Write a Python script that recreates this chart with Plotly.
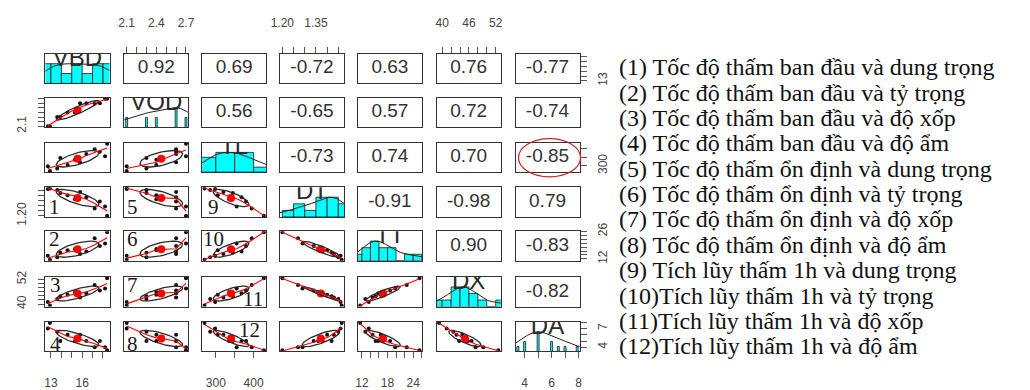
import numpy as np
import plotly.graph_objects as go

# ---- soil infiltration survey: 12 samples, 7 measured variables ----
VBD = [12.9, 12.7, 13.6, 15.8, 13.9, 14.6, 16.4, 15.3, 17.7, 18.2, 17.2, 18.4]
VOD = [2.1, 2.1, 2.3, 2.6, 2.3, 2.4, 2.6, 2.4, 2.6, 2.7, 2.6, 2.7]
TL = [270, 298, 285, 320, 345, 305, 368, 335, 380, 355, 395, 427]
DT = [1.465, 1.46, 1.45, 1.43, 1.42, 1.40, 1.38, 1.36, 1.34, 1.29, 1.27, 1.20]
TT = [11.6, 13.6, 12.8, 14.5, 15.2, 16.4, 15.8, 17.0, 18.6, 19.8, 22.5, 25.5]
DX = [39.3, 41.0, 42.5, 43.2, 43.8, 44.5, 45.2, 45.8, 46.6, 47.5, 49.2, 52.6]
DA = [7.9, 7.0, 6.5, 6.0, 5.0, 6.0, 5.0, 5.0, 5.0, 4.0, 4.0, 3.5]

var_names = ["VBD", "VOD", "TL", "DT", "TT", "DX", "DA"]

# Pearson coefficients printed in the upper triangle, one list per row
corr_row1 = [0.92, 0.69, -0.72, 0.63, 0.76, -0.77]
corr_row2 = [0.56, -0.65, 0.57, 0.72, -0.74]
corr_row3 = [-0.73, 0.74, 0.70, -0.85]
corr_row4 = [-0.91, -0.98, 0.79]
corr_row5 = [0.90, -0.83]
corr_row6 = [-0.82]

# tick positions and the labels that are printed on each outer side
VBD_ticks = [13, 14, 15, 16, 17, 18]
VBD_bottom = ["13", "", "", "16", "", ""]
VBD_right = ["13", "", "", "", "", ""]
VOD_ticks = [2.1, 2.2, 2.3, 2.4, 2.5, 2.6, 2.7]
VOD_top = ["2.1", "", "", "2.4", "", "", "2.7"]
VOD_left = ["2.1", "", "", "", "", "", ""]
TL_ticks = [300, 350, 400]
TL_bottom = ["300", "", "400"]
TL_right = ["300", "", ""]
DT_ticks = [1.20, 1.25, 1.30, 1.35, 1.40, 1.45]
DT_top = ["1.20", "", "", "1.35", "", ""]
DT_left = ["1.20", "", "", "", "", ""]
TT_ticks = [12, 14, 16, 18, 20, 22, 24, 26]
TT_bottom = ["12", "", "", "18", "", "", "24", ""]
TT_right = ["12", "", "", "", "", "", "", "26"]
DX_ticks = [40, 42, 44, 46, 48, 50, 52]
DX_top = ["40", "", "", "46", "", "", "52"]
DX_left = ["40", "", "", "", "", "", "52"]
DA_ticks = [4, 5, 6, 7, 8]
DA_bottom = ["4", "", "6", "", "8"]
DA_right = ["4", "", "", "7", ""]

# numbered scatter panels (row, col, label)
pair_labels = ["1", "5", "9", "2", "6", "10", "3", "7", "11", "4", "8", "12"]
pair_rows = [3, 3, 3, 4, 4, 4, 5, 5, 5, 6, 6, 6]
pair_cols = [0, 1, 2, 0, 1, 2, 0, 1, 2, 0, 1, 2]

legend_lines = [
    "(1) Tốc độ thấm ban đầu và dung trọng",
    "(2) Tốc độ thấm ban đầu và tỷ trọng",
    "(3) Tốc độ thấm ban đầu và độ xốp",
    "(4) Tốc độ thấm ban đầu và độ ẩm",
    "(5) Tốc độ thấm ổn định và dung trọng",
    "(6) Tốc độ thấm ổn định và tỷ trọng",
    "(7) Tốc độ thấm ổn định và độ xốp",
    "(8) Tốc độ thấm ổn định và độ ẩm",
    "(9) Tích lũy thấm 1h và dung trọng",
    "(10)Tích lũy thấm 1h và tỷ trọng",
    "(11)Tích lũy thấm 1h và độ xốp",
    "(12)Tích lũy thấm 1h và độ ẩm",
]

# ---------------------------------------------------------------------------
data = [np.asarray(v, float) for v in (VBD, VOD, TL, DT, TT, DX, DA)]
corr_rows = [corr_row1, corr_row2, corr_row3, corr_row4, corr_row5, corr_row6]
ticks = [VBD_ticks, VOD_ticks, TL_ticks, DT_ticks, TT_ticks, DX_ticks, DA_ticks]
outer_text = {
    ("bottom", 0): VBD_bottom, ("right", 0): VBD_right,
    ("top", 1): VOD_top, ("left", 1): VOD_left,
    ("bottom", 2): TL_bottom, ("right", 2): TL_right,
    ("top", 3): DT_top, ("left", 3): DT_left,
    ("bottom", 4): TT_bottom, ("right", 4): TT_right,
    ("top", 5): DX_top, ("left", 5): DX_left,
    ("bottom", 6): DA_bottom, ("right", 6): DA_right,
}


def corr_value(i, j):
    a, b = min(i, j), max(i, j)
    return corr_rows[a][b - a - 1]


def lowess(x, y, f=2 / 3, iters=3):
    o = np.argsort(x, kind="stable")
    x, y = x[o], y[o]
    n = len(x)
    k = max(2, int(np.ceil(f * n)))
    rob = np.ones(n)
    fit = np.zeros(n)
    for _ in range(iters + 1):
        for i in range(n):
            d = np.abs(x - x[i])
            h = max(np.sort(d)[k - 1], 1e-12)
            u = np.clip(d / h, 0, 1)
            w = (1 - u ** 3) ** 3 * rob
            sw = w.sum()
            xm = (w * x).sum() / sw
            ym = (w * y).sum() / sw
            sxx = (w * (x - xm) ** 2).sum()
            b = (w * (x - xm) * (y - ym)).sum() / sxx if sxx > 1e-12 else 0.0
            fit[i] = ym + b * (x[i] - xm)
        res = y - fit
        s = np.median(np.abs(res))
        if s < 1e-12:
            break
        u = np.clip(res / (6 * s), -1, 1)
        rob = (1 - u ** 2) ** 2
    return x, fit


def pretty_breaks(lo, hi, n):
    cell = (hi - lo) / n
    U = 10 ** np.floor(np.log10(cell))
    unit = U
    h, h5 = 1.5, 0.5 + 1.5 * 1.5
    if 2 * U - cell < h * (cell - unit):
        unit = 2 * U
        if 5 * U - cell < h5 * (cell - unit):
            unit = 5 * U
            if 10 * U - cell < h * (cell - unit):
                unit = 10 * U
    ns = np.floor(lo / unit + 1e-7)
    nu = np.ceil(hi / unit - 1e-7)
    return np.round(np.arange(ns, nu + 0.5) * unit, 10)


def density_curve(v):
    n = len(v)
    sd = v.std(ddof=1)
    q75, q25 = np.percentile(v, [75, 25])
    spread = min(sd, (q75 - q25) / 1.34) if q75 > q25 else sd
    bw = 1.06 * spread * n ** -0.2
    grid = np.linspace(v.min() - 3 * bw, v.max() + 3 * bw, 512)
    dens = np.exp(-0.5 * ((grid[:, None] - v[None, :]) / bw) ** 2).sum(axis=1)
    return grid, dens / dens.max()


def ellipse_path(xm, ym, xs, ys, r, segments=51):
    ang = np.arange(segments + 1) * 2 * np.pi / segments
    circle = np.column_stack([np.cos(ang), np.sin(ang)])
    th = np.sign(r) / np.sqrt(2) if r != 0 else 1 / np.sqrt(2)
    shape = np.diag([np.sqrt(1 + r), np.sqrt(1 - r)]) @ np.array([[th, th], [-th, th]])
    e = circle @ shape
    return e[:, 0] * xs + xm, e[:, 1] * ys + ym


W, H = 1030, 390
col_left = [37, 117, 196, 275, 354, 434, 514]
row_top = [47, 93, 140, 187, 233, 281, 328]
PW, PH = 65, 31

ranges = []
for v in data:
    d = v.max() - v.min()
    ranges.append([v.min() - 0.04 * d, v.max() + 0.04 * d])


def ids(r, c):
    k = r * 7 + c + 1
    s = "" if k == 1 else str(k)
    return "x" + s, "y" + s, "xaxis" + s, "yaxis" + s


fig = go.Figure()
layout = {}
annotations = []

base_axis = dict(showgrid=False, zeroline=False, showline=True, mirror=True,
                 linecolor="#333", linewidth=1, ticks="", showticklabels=False,
                 fixedrange=True)
tick_font = dict(family="Liberation Sans, Arial, sans-serif", size=12, color="#444")
tick_style = dict(ticks="outside", ticklen=6, tickwidth=1, tickcolor="#555",
                  showticklabels=True, tickfont=tick_font)

for r in range(7):
    for c in range(7):
        xid, yid, xkey, ykey = ids(r, c)
        xl = col_left[c] / W
        yt = row_top[r]
        xa = dict(base_axis, domain=[xl, (col_left[c] + PW) / W], anchor=yid,
                  range=ranges[c])
        ya = dict(base_axis, domain=[1 - (yt + PH) / H, 1 - yt / H], anchor=xid)
        ya["range"] = [0, 1.5] if r == c else ranges[r]

        # outer axes
        if r == 0 and c % 2 == 1:
            xa.update(tick_style, side="top", tickvals=ticks[c],
                      ticktext=outer_text[("top", c)], ticklabelstandoff=15)
        if r == 6 and c % 2 == 0:
            xa.update(tick_style, side="bottom", tickvals=ticks[c],
                      ticktext=outer_text[("bottom", c)], ticklabelstandoff=14)
        if c == 0 and r % 2 == 1:
            ya.update(tick_style, side="left", tickangle=-90, tickvals=ticks[r],
                      ticktext=outer_text[("left", r)], ticklabelstandoff=8)
        if c == 6 and r % 2 == 0:
            tv = np.asarray(ticks[r], float)
            if r == c:
                lo, hi = ranges[r]
                tv = (tv - lo) / (hi - lo) * 1.5
            ya.update(tick_style, side="right", tickangle=-90, tickvals=list(tv),
                      ticktext=outer_text[("right", r)], ticklabelstandoff=6)
        layout[xkey] = xa
        layout[ykey] = ya

        if r == c:
            v = data[r]
            uniq, cnt = np.unique(v, return_counts=True)
            if len(uniq) < 11:
                half = np.min(np.diff(uniq)) * (len(uniq) - 1) / 41
                centers, widths, heights = uniq, np.full(len(uniq), 2 * half), cnt / cnt.max()
            else:
                br = pretty_breaks(v.min(), v.max(), int(np.ceil(np.log2(len(v)) + 1)))
                counts = np.array([np.sum((v > br[i] + 1e-9) & (v <= br[i + 1] + 1e-9))
                                   + (np.sum(np.abs(v - br[0]) < 1e-9) if i == 0 else 0)
                                   for i in range(len(br) - 1)])
                centers = (br[:-1] + br[1:]) / 2
                widths = np.diff(br)
                heights = counts / counts.max()
            fig.add_trace(go.Bar(x=centers, y=heights, width=widths, xaxis=xid, yaxis=yid,
                                 marker=dict(color="#00ffff", line=dict(color="#1a1a1a", width=0.8)),
                                 showlegend=False, hoverinfo="skip"))
            gx, gy = density_curve(v)
            fig.add_trace(go.Scatter(x=gx, y=gy, mode="lines", xaxis=xid, yaxis=yid,
                                     line=dict(color="#222", width=1), showlegend=False,
                                     hoverinfo="skip"))
            mid = sum(ranges[c]) / 2
            fig.add_trace(go.Scatter(x=[mid], y=[1.2], mode="text", text=[var_names[r]],
                                     textfont=dict(family="Liberation Sans, Arial", size=24, color="#2a2a2a"),
                                     xaxis=xid, yaxis=yid, cliponaxis=True, showlegend=False,
                                     hoverinfo="skip"))
        elif r < c:
            # coefficient printed in the middle of the panel
            xmid = sum(ranges[c]) / 2
            ymid = sum(ranges[r]) / 2
            fig.add_trace(go.Scatter(x=[xmid], y=[ymid], mode="text",
                                     text=[f"{corr_value(r, c):.2f}"],
                                     textfont=dict(family="Liberation Sans, Arial", size=19, color="#333"),
                                     xaxis=xid, yaxis=yid, showlegend=False, hoverinfo="skip"))
        else:
            x, y = data[c], data[r]
            rr = corr_value(r, c)
            fig.add_trace(go.Scatter(x=x, y=y, mode="markers", xaxis=xid, yaxis=yid,
                                     marker=dict(color="#111", size=4), showlegend=False,
                                     hoverinfo="skip"))
            ex, ey = ellipse_path(x.mean(), y.mean(), x.std(ddof=1), y.std(ddof=1), rr)
            fig.add_trace(go.Scatter(x=[x.mean()], y=[y.mean()], mode="markers", xaxis=xid, yaxis=yid,
                                     marker=dict(color="#ff0000", size=8), showlegend=False,
                                     hoverinfo="skip"))
            fig.add_trace(go.Scatter(x=ex, y=ey, mode="lines", xaxis=xid, yaxis=yid,
                                     line=dict(color="#2a2a2a", width=1.3), showlegend=False,
                                     hoverinfo="skip"))
            lx, ly = lowess(x, y)
            fig.add_trace(go.Scatter(x=lx, y=ly, mode="lines", xaxis=xid, yaxis=yid,
                                     line=dict(color="#ff0000", width=1.1), showlegend=False,
                                     hoverinfo="skip"))

# pair numbers inside the scatter panels
pair_pos = {"1": (0.14, 0.34), "5": (0.13, 0.32), "9": (0.17, 0.32),
            "2": (0.14, 0.73), "6": (0.13, 0.73), "10": (0.17, 0.73),
            "3": (0.15, 0.72), "7": (0.13, 0.72), "11": (0.79, 0.25),
            "4": (0.15, 0.24), "8": (0.13, 0.24), "12": (0.74, 0.73)}
for lab, r, c in zip(pair_labels, pair_rows, pair_cols):
    xid, yid, _, _ = ids(r, c)
    px, py = pair_pos[lab]
    annotations.append(dict(x=px, y=py, xref=xid + " domain", yref=yid + " domain",
                            xanchor="center", yanchor="middle",
                            text=lab, showarrow=False,
                            font=dict(family="Liberation Serif, Times New Roman, serif", size=21,
                                      color="#1a1a1a")))

# explanatory list on the right
for i, line in enumerate(legend_lines):
    yc = 61 + i * 26.6
    annotations.append(dict(x=618 / W, y=1 - yc / H, xref="paper", yref="paper",
                            xanchor="left", yanchor="middle", text=line, showarrow=False,
                            borderpad=0,
                            font=dict(family="Liberation Serif, Times New Roman, serif", size=24,
                                      color="#111")))

# highlight ring around the strongest TL-DA coefficient
shapes = [dict(type="circle", xref="paper", yref="paper",
               x0=517 / W, x1=580 / W, y0=1 - 176 / H, y1=1 - 136 / H,
               line=dict(color="#d42020", width=1.2))]

fig.update_layout(width=W, height=H, margin=dict(l=0, r=0, t=0, b=0),
                  paper_bgcolor="white", plot_bgcolor="white", barmode="overlay",
                  annotations=annotations, shapes=shapes, showlegend=False, **layout)
fig.write_html("out.html")
